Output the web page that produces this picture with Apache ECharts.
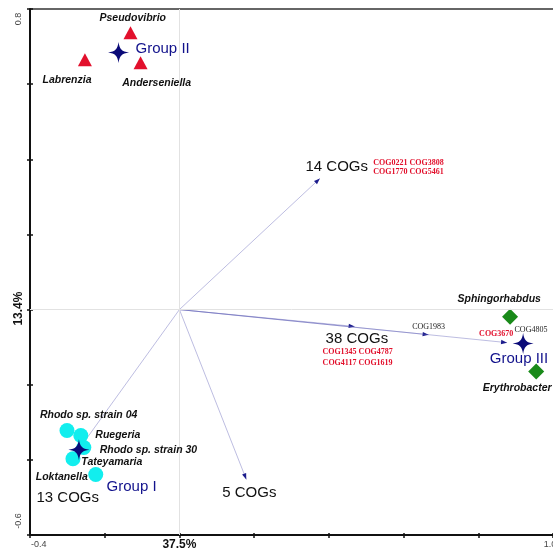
<!DOCTYPE html>
<html><head><meta charset="utf-8">
<script src="https://cdn.jsdelivr.net/npm/echarts@6/dist/echarts.min.js"></script>
<style>html,body{margin:0;padding:0;background:#fff}#c{width:553px;height:549px}</style>
</head><body><div id="c"></div>
<script>
// ---- axes ----
const xRange = [-0.4, 1.0];
const yRange = [-0.6, 0.8];
const tickStep = 0.2;
const xTickValues = [-0.4, 0, 1.0];
const xTickLabels = ['-0.4', '37.5%', '1.0'];
const yTickValues = [0.8, 0, -0.6];
const yTickLabels = ['0.8', '13.4%', '-0.6'];

// ---- Group I (circles) ----
const group1Names = ['Rhodo sp. strain 04', 'Ruegeria', 'Rhodo sp. strain 30', 'Tateyamaria', 'Loktanella'];
const group1X = [-0.301, -0.264, -0.256, -0.285, -0.224];
const group1Y = [-0.322, -0.335, -0.367, -0.397, -0.439];
const group1LabelX = [-0.243, -0.165, -0.083, -0.181, -0.315];
const group1LabelY = [-0.282, -0.333, -0.375, -0.407, -0.445];

// ---- Group II (triangles) ----
const group2Names = ['Pseudovibrio', 'Labrenzia', 'Anderseniella'];
const group2X = [-0.131, -0.253, -0.104];
const group2Y = [0.737, 0.665, 0.657];
const group2LabelX = [-0.125, -0.301, -0.061];
const group2LabelY = [0.775, 0.612, 0.604];

// ---- Group III (diamonds) ----
const group3Names = ['Sphingorhabdus', 'Erythrobacter'];
const group3X = [0.885, 0.955];
const group3Y = [-0.019, -0.165];
const group3LabelX = [0.856, 0.904];
const group3LabelY = [0.027, -0.208];

// ---- group centroids (stars) ----
const centroidNames = ['Group I', 'Group II', 'Group III'];
const centroidX = [-0.269, -0.163, 0.920];
const centroidY = [-0.373, 0.684, -0.090];
const centroidLabelX = [-0.128, -0.045, 0.909];
const centroidLabelY = [-0.471, 0.695, -0.130];

// ---- COG vectors (arrows from origin) ----
const vectorX = [0.376, 0.469, 0.667, 0.877, 0.179, -0.262];
const vectorY = [0.349, -0.045, -0.067, -0.088, -0.452, -0.362];

// ---- vector count labels ----
const countLabels = ['14 COGs', '38 COGs', '5 COGs', '13 COGs'];
const countLabelX = [0.421, 0.475, 0.187, -0.299];
const countLabelY = [0.381, -0.077, -0.487, -0.500];

// ---- COG codes (red, bold) ----
const redCodes = ['COG0221 COG3808', 'COG1770 COG5461', 'COG1345 COG4787', 'COG4117 COG1619', 'COG3670'];
const redCodeX = [0.613, 0.613, 0.477, 0.477, 0.848];
const redCodeY = [0.391, 0.365, -0.114, -0.141, -0.064];

// ---- COG codes (black) ----
const blackCodes = ['COG1983', 'COG4805'];
const blackCodeX = [0.667, 0.941];
const blackCodeY = [-0.045, -0.053];

const SANS = "'Liberation Sans', Arial, sans-serif";
const SERIF = "'Liberation Serif', 'Times New Roman', serif";
const STAR = 'path://M0,-10 C1,-3 3,-1 10,0 C3,1 1,3 0,10 C-1,3 -3,1 -10,0 C-3,-1 -1,-3 0,-10 Z';

function pts(xs, ys) { return xs.map((x, i) => [x, ys[i]]); }
function txt(xs, ys, names) { return xs.map((x, i) => ({ value: [x, ys[i]], name: names[i] })); }

function textSeries(data, labelStyle) {
  return {
    type: 'scatter', data: data, symbolSize: 1, z: 10, silent: true,
    itemStyle: { color: 'rgba(0,0,0,0)', opacity: 1 },
    label: Object.assign({ show: true, position: 'inside', formatter: p => p.name, align: 'center', verticalAlign: 'middle', opacity: 1 }, labelStyle)
  };
}

const chart = echarts.init(document.getElementById('c'), null, { renderer: 'canvas' });

const axisCommon = { type: 'value', interval: tickStep, splitLine: { show: false }, axisLabel: { show: false } };

chart.setOption({
  animation: false,
  backgroundColor: '#ffffff',
  grid: { left: 30, top: 9, right: -2, bottom: 14, show: false },
  xAxis: [
    Object.assign({}, axisCommon, { min: xRange[0], max: xRange[1], position: 'bottom',
      axisLine: { show: true, onZero: false, lineStyle: { color: '#111', width: 2 } },
      axisTick: { show: false } }),
    Object.assign({}, axisCommon, { min: xRange[0], max: xRange[1], position: 'bottom', offset: -2,
      axisLine: { show: false, onZero: false },
      axisTick: { show: true, length: 5, lineStyle: { color: '#111', width: 1.5 } } })
  ],
  yAxis: [
    Object.assign({}, axisCommon, { min: yRange[0], max: yRange[1], position: 'left',
      axisLine: { show: true, onZero: false, lineStyle: { color: '#111', width: 2 } },
      axisTick: { show: false } }),
    Object.assign({}, axisCommon, { min: yRange[0], max: yRange[1], position: 'left', offset: -3,
      axisLine: { show: false, onZero: false },
      axisTick: { show: true, length: 6, lineStyle: { color: '#111', width: 1.5 } } })
  ],
  series: [
    {
      type: 'custom', z: 1, silent: true,
      data: pts(vectorX, vectorY),
      renderItem: function (params, api) {
        const s = api.coord([0, 0]);
        const e = api.coord([api.value(0), api.value(1)]);
        const dx = e[0] - s[0], dy = e[1] - s[1];
        const L = Math.sqrt(dx * dx + dy * dy);
        const ux = dx / L, uy = dy / L, nx = -uy, ny = ux;
        const hl = 6, hw = 2.2;
        return {
          type: 'group',
          children: [
            { type: 'line', shape: { x1: s[0], y1: s[1], x2: e[0], y2: e[1] },
              style: { stroke: '#5a5ab4', lineWidth: 1, opacity: 0.4 } },
            { type: 'polygon', shape: { points: [
                [e[0], e[1]],
                [e[0] - hl * ux + hw * nx, e[1] - hl * uy + hw * ny],
                [e[0] - hl * ux - hw * nx, e[1] - hl * uy - hw * ny]] },
              style: { fill: '#1c1c8c' } }
          ]
        };
      },
      markLine: {
        silent: true, symbol: 'none', label: { show: false },
        lineStyle: { color: '#e2e2e2', width: 1, type: 'solid', opacity: 1 },
        data: [{ xAxis: 0 }, { yAxis: 0 }]
      }
    },
    { type: 'scatter', z: 3, data: pts(group1X, group1Y), symbol: 'circle', symbolSize: 15,
      itemStyle: { color: '#12eeee', opacity: 1 } },
    { type: 'scatter', z: 3, data: pts(group2X, group2Y), symbol: 'triangle', symbolSize: [14, 13],
      itemStyle: { color: '#e2102c', opacity: 1 } },
    { type: 'scatter', z: 3, data: pts(group3X, group3Y), symbol: 'diamond', symbolSize: 16,
      itemStyle: { color: '#198a19', opacity: 1 } },
    { type: 'scatter', z: 4, data: pts(centroidX, centroidY), symbol: STAR, symbolSize: [21, 21],
      itemStyle: { color: '#0a0a78', opacity: 1 } },
    textSeries(txt(group1LabelX, group1LabelY, group1Names).concat(
               txt(group2LabelX, group2LabelY, group2Names),
               txt(group3LabelX, group3LabelY, group3Names)),
      { fontFamily: SANS, fontSize: 10.5, fontWeight: 'bold', fontStyle: 'italic', color: '#111' }),
    textSeries(txt(centroidLabelX, centroidLabelY, centroidNames),
      { fontFamily: SANS, fontSize: 15, color: '#12128c' }),
    textSeries(txt(countLabelX, countLabelY, countLabels),
      { fontFamily: SANS, fontSize: 15, color: '#111' }),
    textSeries(txt(redCodeX, redCodeY, redCodes),
      { fontFamily: SERIF, fontSize: 8, fontWeight: 'bold', color: '#e2102c' }),
    textSeries(txt(blackCodeX, blackCodeY, blackCodes),
      { fontFamily: SERIF, fontSize: 8, color: '#222' })
  ]
});

// axis end labels, positioned from the axis scales; top frame line
const g = [];
const topY = chart.convertToPixel({ yAxisIndex: 0 }, yRange[1]);
const leftX = chart.convertToPixel({ xAxisIndex: 0 }, xRange[0]);
g.push({ type: 'line', silent: true, shape: { x1: leftX, y1: topY, x2: 553, y2: topY },
  style: { stroke: '#333', lineWidth: 1.5 } });
xTickValues.forEach((v, i) => {
  const px = chart.convertToPixel({ xAxisIndex: 0 }, v);
  const isPct = xTickLabels[i].indexOf('%') >= 0;
  const isMin = v === xRange[0], isMax = v === xRange[1];
  g.push({ type: 'text', x: isMin ? px + 1 : (isMax ? px - 3 : px), y: 545, silent: true,
    style: { text: xTickLabels[i], fontFamily: SANS, fontSize: isPct ? 12 : 9, fontWeight: isPct ? 'bold' : 'normal',
      fill: isPct ? '#111' : '#444', align: isMin ? 'left' : 'center', verticalAlign: 'middle' } });
});
yTickValues.forEach((v, i) => {
  const py = chart.convertToPixel({ yAxisIndex: 0 }, v);
  const isPct = yTickLabels[i].indexOf('%') >= 0;
  const isMin = v === yRange[0], isMax = v === yRange[1];
  g.push({ type: 'text', x: 19, y: isMax ? py + 10 : (isMin ? py - 14 : py - 1), rotation: Math.PI / 2, silent: true,
    style: { text: yTickLabels[i], fontFamily: SANS, fontSize: isPct ? 12 : 9, fontWeight: isPct ? 'bold' : 'normal',
      fill: isPct ? '#111' : '#444', align: 'center', verticalAlign: 'middle' } });
});
chart.setOption({ graphic: g });
</script>
</body></html>
